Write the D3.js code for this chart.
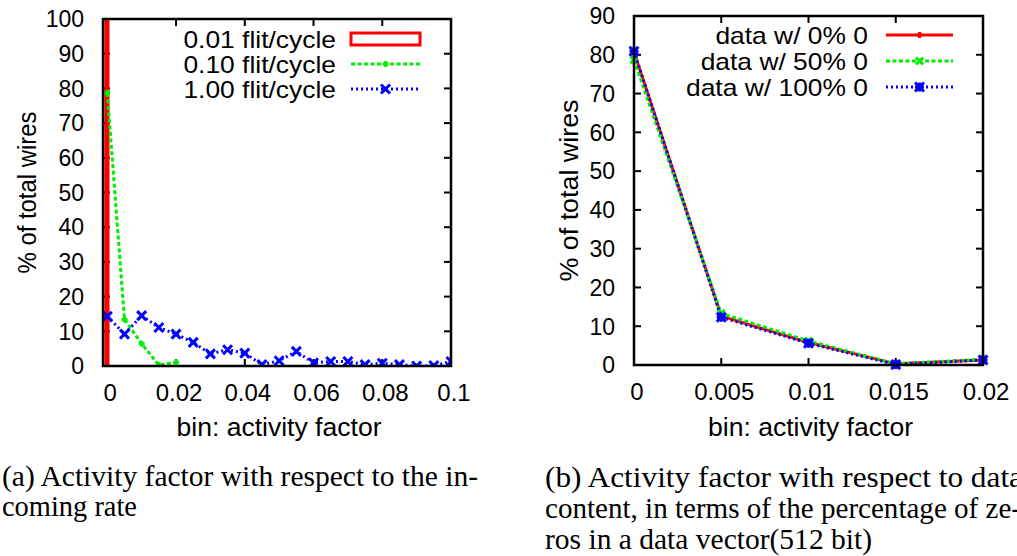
<!DOCTYPE html>
<html>
  <head>
    <title>Activity factor</title>
    <script src="https://d3js.org/d3.v7.min.js"></script>
    <style>
      body { margin: 0; background: #fff; }
      text { font-family: "Liberation Sans", Arial, sans-serif; fill: #000; }
      .cap { font-family: "Liberation Serif", "Times New Roman", serif; font-size: 29px; }
    </style>
  </head>
  <body>
    <script>
      // ---- data: chart (a) ----
      const binsA = [0, 0.005, 0.01, 0.015, 0.02, 0.025, 0.03, 0.035, 0.04, 0.045, 0.05,
                     0.055, 0.06, 0.065, 0.07, 0.075, 0.08, 0.085, 0.09, 0.095, 0.1];
      const rate001 = [100];                        // box at bin 0
      const rate010 = [78.7, 13.4, 6.4, 0.3, 1.1];  // bins 0 .. 0.02
      const rate100 = [14.3, 9.2, 14.5, 11.1, 9.2, 6.8, 3.5, 4.7, 3.7, 0.4, 1.5,
                       4.2, 0.9, 1.3, 1.3, 0.4, 0.8, 0.4, 0.0, 0.1, 1.3];
      const ticksXA = [0, 0.02, 0.04, 0.06, 0.08, 0.1];
      const ticksYA = [0, 10, 20, 30, 40, 50, 60, 70, 80, 90, 100];

      // ---- data: chart (b) ----
      const binsB = [0, 0.005, 0.01, 0.015, 0.02];
      const zero0 = [80.7, 12.6, 5.8, 0.3, 1.3];
      const zero50 = [78.7, 13.3, 6.2, 0.3, 1.5];
      const zero100 = [80.9, 12.3, 5.6, 0.1, 1.3];
      const ticksXB = [0, 0.005, 0.01, 0.015, 0.02];
      const ticksYB = [0, 10, 20, 30, 40, 50, 60, 70, 80, 90];

      const width = 1017, height = 556;
      const svg = d3.select("body").append("svg")
        .attr("width", width).attr("height", height);
      svg.append("rect").attr("width", width).attr("height", height).attr("fill", "#fff");

      // marker shapes (gnuplot-like)
      function marker(g, kind, x, y, color, s) {
        let d;
        if (kind === "plus") d = `M${x - s},${y}H${x + s}M${x},${y - s}V${y + s}`;
        else if (kind === "cross") d = `M${x - s},${y - s}L${x + s},${y + s}M${x - s},${y + s}L${x + s},${y - s}`;
        else d = `M${x - s},${y}H${x + s}M${x},${y - s}V${y + s}M${x - s},${y - s}L${x + s},${y + s}M${x - s},${y + s}L${x + s},${y - s}`;
        g.append("path").attr("d", d).attr("stroke", color).attr("stroke-width", 3).attr("fill", "none");
      }

      function frame(g, x, y, xt, yt, fmtX) {
        const [x0, x1] = x.range(), [y0, y1] = y.range();
        const tl = 7;
        xt.forEach(v => {
          g.append("line").attr("x1", x(v)).attr("x2", x(v)).attr("y1", y0).attr("y2", y0 - tl)
            .attr("stroke", "#000").attr("stroke-width", 2);
          g.append("line").attr("x1", x(v)).attr("x2", x(v)).attr("y1", y1).attr("y2", y1 + tl)
            .attr("stroke", "#000").attr("stroke-width", 2);
          g.append("text").attr("x", x(v) + 3).attr("y", y0 + 35).attr("text-anchor", "middle")
            .style("font-size", "24px").text(fmtX(v));
        });
        yt.forEach(v => {
          g.append("line").attr("x1", x0).attr("x2", x0 + tl).attr("y1", y(v)).attr("y2", y(v))
            .attr("stroke", "#000").attr("stroke-width", 2);
          g.append("line").attr("x1", x1).attr("x2", x1 - tl).attr("y1", y(v)).attr("y2", y(v))
            .attr("stroke", "#000").attr("stroke-width", 2);
          g.append("text").attr("x", x0 - 19).attr("y", y(v)).attr("dy", "0.36em")
            .attr("text-anchor", "end").style("font-size", "23px").text(v);
        });
      }

      function border(g, x, y) {
        const [x0, x1] = x.range(), [y0, y1] = y.range();
        g.append("rect").attr("x", x0).attr("y", y1).attr("width", x1 - x0).attr("height", y0 - y1)
          .attr("fill", "none").attr("stroke", "#000").attr("stroke-width", 2.5);
      }

      function titles(g, x, y, yTitleX, yLen) {
        const [x0, x1] = x.range(), [y0, y1] = y.range();
        g.append("text").attr("x", (x0 + x1) / 2 + 2).attr("y", 436).attr("text-anchor", "middle")
          .attr("textLength", 205).attr("lengthAdjust", "spacingAndGlyphs")
          .style("font-size", "25px").text("bin: activity factor");
        g.append("text").attr("transform", `translate(${yTitleX},${(y0 + y1) / 2}) rotate(-90)`)
          .attr("text-anchor", "middle").attr("textLength", yLen).attr("lengthAdjust", "spacingAndGlyphs")
          .style("font-size", "25px").text("% of total wires");
      }

      function series(g, x, y, xs, ys, color, dash, kind, size) {
        const pts = ys.map((v, i) => [xs[i], v]);
        const line = d3.line().x(d => x(d[0])).y(d => y(d[1]));
        g.append("path").datum(pts).attr("d", line).attr("fill", "none")
          .attr("stroke", color).attr("stroke-width", 3).attr("stroke-dasharray", dash);
        pts.forEach(d => marker(g, kind, x(d[0]), y(d[1]), color, size));
      }

      function legendRow(g, xText, xs, xe, yy, label, color, dash, kind, size) {
        const t = g.append("text").attr("x", xText).attr("y", yy).attr("dy", "0.36em").attr("text-anchor", "end")
          .style("font-size", "24px").text(label);
        // gnuplot text is a little wider than Liberation Sans
        const len = t.node().getComputedTextLength();
        t.attr("textLength", len * 1.1).attr("lengthAdjust", "spacingAndGlyphs");
        if (kind === "box") {
          g.append("rect").attr("x", xs).attr("y", yy - 6).attr("width", xe - xs).attr("height", 12)
            .attr("fill", "none").attr("stroke", color).attr("stroke-width", 3);
        } else {
          g.append("line").attr("x1", xs).attr("x2", xe).attr("y1", yy).attr("y2", yy)
            .attr("stroke", color).attr("stroke-width", 3).attr("stroke-dasharray", dash);
          if (kind) marker(g, kind, (xs + xe) / 2, yy, color, size);
        }
      }

      // ---- chart (a) ----
      const xA = d3.scaleLinear().domain([-0.00125, 0.1]).range([103, 451]);
      const yA = d3.scaleLinear().domain([0, 100]).range([366, 19]);
      const gA = svg.append("g");
      frame(gA, xA, yA, ticksXA, ticksYA, v => v === 0 ? "0" : String(v));
      titles(gA, xA, yA, 36, 162);
      svg.append("clipPath").attr("id", "clipA").append("rect")
        .attr("x", 103).attr("y", 19).attr("width", 348).attr("height", 347);
      const pA = gA.append("g").attr("clip-path", "url(#clipA)");
      rate001.forEach((v, i) => {
        pA.append("rect").attr("x", xA(binsA[i] - 0.0007)).attr("y", yA(v))
          .attr("width", xA(0.0005) - xA(-0.0007)).attr("height", yA(0) - yA(v))
          .attr("fill", "#ff0000").attr("stroke", "#ff0000").attr("stroke-width", 1);
      });
      series(pA, xA, yA, binsA, rate010, "#00ee00", "4,2.5", "plus", 3);
      series(pA, xA, yA, binsA, rate100, "#0000ff", "2,3", "cross", 4.5);
      border(gA, xA, yA);
      legendRow(gA, 336, 351, 420, 39, "0.01 flit/cycle", "#ff0000", null, "box");
      legendRow(gA, 336, 351, 420, 64, "0.10 flit/cycle", "#00ee00", "4,2.5", "plus", 3);
      legendRow(gA, 336, 351, 420, 89, "1.00 flit/cycle", "#0000ff", "2,3", "cross", 4.5);

      // ---- chart (b) ----
      const xB = d3.scaleLinear().domain([0, 0.02]).range([634, 983]);
      const yB = d3.scaleLinear().domain([0, 90]).range([365, 16]);
      const gB = svg.append("g");
      frame(gB, xB, yB, ticksXB, ticksYB, v => v === 0 ? "0" : String(v));
      titles(gB, xB, yB, 578, 182);
      series(gB, xB, yB, binsB, zero0, "#ff0000", null, "plus", 3);
      series(gB, xB, yB, binsB, zero50, "#00ee00", "4,2.5", "cross", 3.5);
      series(gB, xB, yB, binsB, zero100, "#0000ff", "2,3", "star", 4.5);
      border(gB, xB, yB);
      legendRow(gB, 868, 886, 953, 35, "data w/ 0% 0", "#ff0000", null, "plus", 3);
      legendRow(gB, 868, 886, 953, 61, "data w/ 50% 0", "#00ee00", "4,2.5", "cross", 3.5);
      legendRow(gB, 868, 886, 953, 87, "data w/ 100% 0", "#0000ff", "2,3", "star", 4.5);

      // ---- captions ----
      const capA = [
        { t: "(a) Activity factor with respect to the in-", x: 2, y: 486, w: 476 },
        { t: "coming rate", x: 2, y: 516, w: 135 }
      ];
      const capB = [
        { t: "(b) Activity factor with respect to data", x: 545, y: 487, w: 478 },
        { t: "content, in terms of the percentage of ze-", x: 545, y: 518, w: 476 },
        { t: "ros in a data vector(512 bit)", x: 545, y: 549, w: 327 }
      ];
      capA.concat(capB).forEach(c => {
        svg.append("text").attr("class", "cap").attr("x", c.x).attr("y", c.y)
          .attr("textLength", c.w).attr("lengthAdjust", "spacingAndGlyphs").text(c.t);
      });
    </script>
  </body>
</html>
